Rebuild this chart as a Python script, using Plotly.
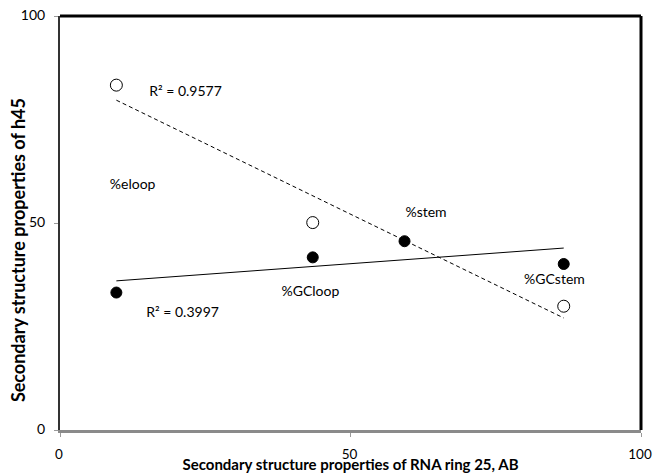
import numpy as np
import plotly.graph_objects as go

# Data
open_x = [9.7, 43.5, 86.7]
open_y = [83.3, 50.1, 29.9]
filled_x = [9.7, 43.5, 59.3, 86.7]
filled_y = [33.2, 41.7, 45.6, 40.1]

label_text = ["%eloop", "%stem", "%GCloop", "%GCstem"]
label_x = [12.5, 63.0, 43.1, 85.1]
label_y = [59.1, 52.3, 33.1, 36.0]

r2_text = ["R² = 0.9577", "R² = 0.3997"]
r2_x = [21.6, 21.1]
r2_y = [81.6, 28.2]

tick_vals = [0, 50, 100]
x_title = "Secondary structure properties of RNA ring 25, AB"
y_title = "Secondary structure properties of h45"

FONT = "Lato"
FS = 14

# linear trendlines computed from the data
po = np.polyfit(open_x, open_y, 1)
pf = np.polyfit(filled_x, filled_y, 1)
ox = [min(open_x), max(open_x)]
fx = [min(filled_x), max(filled_x)]

fig = go.Figure()
fig.add_trace(go.Scatter(x=ox, y=list(np.polyval(po, ox)), mode="lines",
                         line=dict(color="black", width=1, dash="4px,3px"),
                         showlegend=False, hoverinfo="skip"))
fig.add_trace(go.Scatter(x=fx, y=list(np.polyval(pf, fx)), mode="lines",
                         line=dict(color="black", width=1),
                         showlegend=False, hoverinfo="skip"))
fig.add_trace(go.Scatter(x=open_x, y=open_y, mode="markers",
                         marker=dict(size=12, color="white", line=dict(color="black", width=1)),
                         showlegend=False))
fig.add_trace(go.Scatter(x=filled_x, y=filled_y, mode="markers",
                         marker=dict(size=11, color="black", line=dict(color="black", width=1)),
                         showlegend=False))
fig.add_trace(go.Scatter(x=label_x, y=label_y, mode="text", text=label_text,
                         textfont=dict(family=FONT, size=FS, color="black"),
                         showlegend=False, hoverinfo="skip"))
fig.add_trace(go.Scatter(x=r2_x, y=r2_y, mode="text", text=r2_text,
                         textfont=dict(family=FONT, size=FS, color="black"),
                         showlegend=False, hoverinfo="skip"))

# frame: thick top/right black
fig.add_shape(type="line", xref="paper", yref="paper", x0=0, x1=1, y0=1, y1=1,
              line=dict(color="black", width=3), layer="above")
fig.add_shape(type="line", xref="paper", yref="paper", x0=1, x1=1, y0=0, y1=1,
              line=dict(color="black", width=3), layer="above")

# y-axis title (placed as annotation: larger and lower than the plot centre)
fig.add_annotation(text="<b>" + y_title + "</b>", xref="paper", yref="paper",
                   x=-0.0723, y=0.4345, xanchor="center", yanchor="middle",
                   textangle=-90, showarrow=False,
                   font=dict(family=FONT, size=18, color="black"))

fig.update_layout(
    width=654, height=473,
    margin=dict(l=60, r=13, t=16, b=43),
    paper_bgcolor="white", plot_bgcolor="white",
    font=dict(family=FONT, size=FS, color="black"),
    xaxis=dict(range=[0, 100], tickvals=tick_vals, showgrid=False, zeroline=False,
               automargin=False, ticklabeloverflow="allow", ticklabelstandoff=6,
               ticklabelshift=-1,
               showline=True, linecolor="#8a8a8a", linewidth=3,
               ticks="outside", ticklen=4, tickcolor="#9a9a9a", tickwidth=1,
               tickfont=dict(family=FONT, size=13.5),
               title=dict(text=x_title, font=dict(family=FONT, size=15, weight="bold"), standoff=2)),
    yaxis=dict(range=[0, 100], tickvals=tick_vals, showgrid=False, zeroline=False,
               automargin=False, ticklabeloverflow="allow", ticklabelstandoff=6,
               ticklabelshift=-1,
               showline=True, linecolor="#333", linewidth=2,
               ticks="outside", ticklen=4, tickcolor="#9a9a9a", tickwidth=1,
               tickfont=dict(family=FONT, size=14)),
)

# remove the browser's default 8px body margin so the figure fills the window
fig.write_html("out.html",
               config={"displayModeBar": False},
               post_script="document.body.style.margin='0';document.body.style.overflow='hidden';")
